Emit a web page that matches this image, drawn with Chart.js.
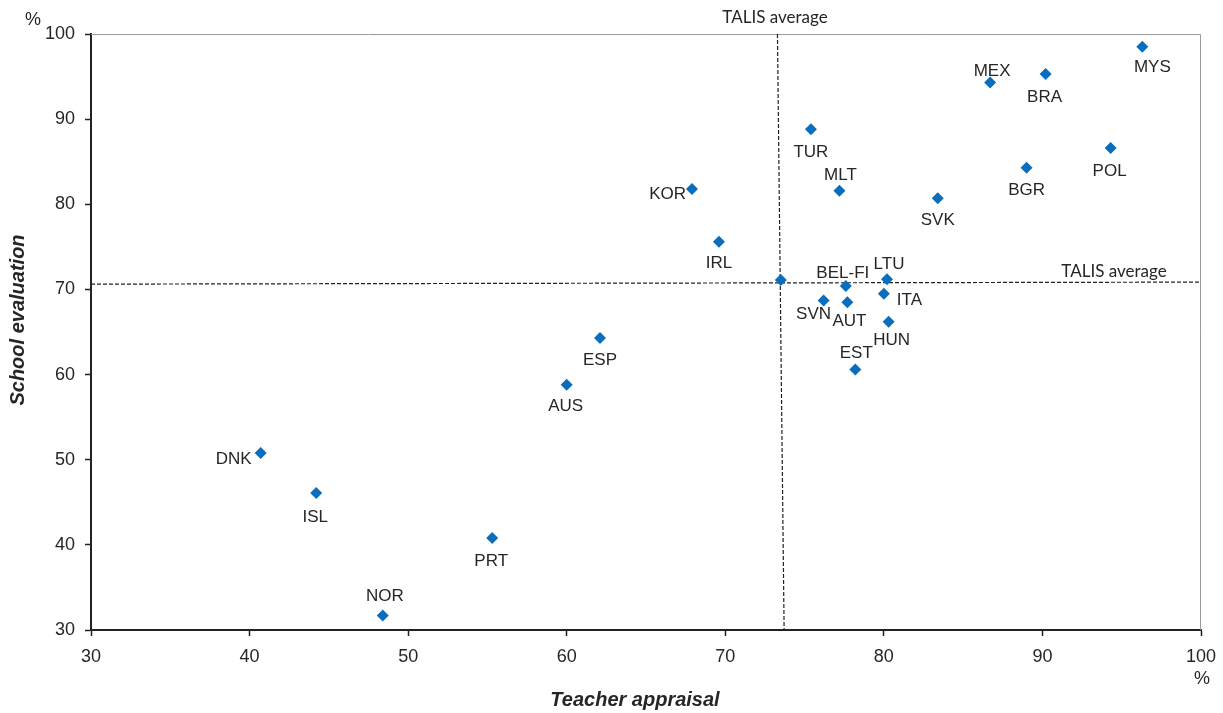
<!DOCTYPE html>
<html>
<head>
<meta charset="utf-8">
<script src="https://cdn.jsdelivr.net/npm/chart.js@4"></script>
<style>
  html, body { margin: 0; padding: 0; background: #fff; }
  #wrap { width: 1223px; height: 713px; }
</style>
</head>
<body>
<div id="wrap"><canvas id="chart"></canvas></div>
<script>
// country codes, '' = TALIS average point (no label)
const countries = ['MYS', 'MEX', 'BRA', 'POL', 'BGR', 'SVK', 'TUR', 'MLT', 'KOR', 'IRL', '', 'LTU',
  'BEL-FI', 'ITA', 'SVN', 'AUT', 'HUN', 'EST', 'ESP', 'AUS', 'DNK', 'ISL', 'PRT', 'NOR'];
const teacherAppraisal = [96.3, 86.7, 90.2, 94.3, 89.0, 83.4, 75.4, 77.2, 67.9, 69.6, 73.5, 80.2,
  77.6, 80.0, 76.2, 77.7, 80.3, 78.2, 62.1, 60.0, 40.7, 44.2, 55.3, 48.4];
const schoolEvaluation = [98.5, 94.3, 95.3, 86.6, 84.3, 80.7, 88.8, 81.6, 81.8, 75.6, 71.1, 71.2,
  70.4, 69.5, 68.7, 68.5, 66.2, 60.6, 64.3, 58.8, 50.8, 46.1, 40.8, 31.7];

// TALIS average reference lines (as drawn in the source, ends slightly off)
const avgLineX = [73.29, 73.71];
const avgLineXY = [100, 30];
const avgLineY = [70.62, 70.86];
const avgLineYX = [30, 100];

const axisMin = 30;
const axisMax = 100;
const tickStep = 10;

// where each label sits relative to its marker (px)
const labelPos = {
  'MYS': [10, 21], 'MEX': [2, -11], 'BRA': [-1, 23], 'POL': [-1, 23], 'BGR': [0, 23],
  'SVK': [0, 22], 'TUR': [0, 23], 'MLT': [1, -15], 'KOR': [-6, 5, 'right'], 'IRL': [0, 22],
  'LTU': [2, -15], 'BEL-FI': [-3, -13], 'ITA': [13, 7, 'left'], 'SVN': [-10, 14], 'AUT': [2, 19],
  'HUN': [3, 19], 'EST': [1, -16], 'ESP': [0, 22], 'AUS': [-1, 22], 'DNK': [-9, 6, 'right'],
  'ISL': [-1, 24], 'PRT': [-1, 23], 'NOR': [2, -19]
};

const textColor = '#262626';
const arial = 'Arial, "Liberation Sans", Helvetica, sans-serif';

const pointLabels = {
  id: 'pointLabels',
  afterDatasetsDraw(chart) {
    const ctx = chart.ctx;
    const meta = chart.getDatasetMeta(0);
    ctx.save();
    ctx.font = '17px ' + arial;
    ctx.fillStyle = textColor;
    ctx.textBaseline = 'middle';
    meta.data.forEach((pt, i) => {
      const name = countries[i];
      if (!name) return;
      const p = labelPos[name] || [0, 20];
      ctx.textAlign = p[2] || 'center';
      ctx.fillText(name, pt.x + p[0], pt.y + p[1]);
    });
    ctx.restore();
  }
};

const extras = {
  id: 'extras',
  beforeDatasetsDraw(chart) {
    const { ctx, chartArea: a } = chart;
    ctx.save();
    // thin gray frame on top and right
    ctx.strokeStyle = '#9a9a9a';
    ctx.lineWidth = 1;
    ctx.beginPath();
    ctx.moveTo(a.left, a.top + 0.5);
    ctx.lineTo(a.right - 0.5, a.top + 0.5);
    ctx.lineTo(a.right - 0.5, a.bottom);
    ctx.stroke();
    ctx.restore();
  },
  afterDraw(chart) {
    const ctx = chart.ctx;
    ctx.save();
    ctx.fillStyle = textColor;
    ctx.textBaseline = 'middle';
    ctx.textAlign = 'center';

    ctx.font = '17px Lato, "Open Sans", sans-serif';
    ctx.fillText('TALIS average', 775, 18);
    ctx.fillText('TALIS average', 1114, 272);

    ctx.font = '18px ' + arial;
    ctx.fillText('%', 33, 20);
    ctx.fillText('%', 1202, 679);

    ctx.font = 'italic bold 20px ' + arial;
    ctx.fillText('Teacher appraisal', 635, 700);
    ctx.translate(18, 320);
    ctx.rotate(-Math.PI / 2);
    ctx.fillText('School evaluation', 0, 0);
    ctx.restore();
  }
};

const axisCommon = {
  type: 'linear',
  min: axisMin,
  max: axisMax,
  ticks: {
    stepSize: tickStep,
    color: textColor,
    font: { family: arial, size: 18 },
    padding: 10
  },
  grid: {
    display: true,
    drawOnChartArea: false,
    drawTicks: true,
    tickLength: 6,
    tickColor: '#222',
    tickWidth: 1.5
  },
  border: { color: '#222', width: 2 }
};

new Chart(document.getElementById('chart'), {
  type: 'scatter',
  data: {
    datasets: [
      {
        data: teacherAppraisal.map((x, i) => ({ x: x, y: schoolEvaluation[i] })),
        pointStyle: 'rectRot',
        pointRadius: 6,
        backgroundColor: '#0a6ebd',
        borderColor: '#0a6ebd',
        borderWidth: 0
      },
      {
        data: avgLineX.map((x, i) => ({ x: x, y: avgLineXY[i] })),
        showLine: true,
        pointRadius: 0,
        borderColor: '#222',
        borderWidth: 1.2,
        borderDash: [4, 2]
      },
      {
        data: avgLineYX.map((x, i) => ({ x: x, y: avgLineY[i] })),
        showLine: true,
        pointRadius: 0,
        borderColor: '#222',
        borderWidth: 1.2,
        borderDash: [4, 2]
      }
    ]
  },
  options: {
    responsive: true,
    maintainAspectRatio: false,
    animation: false,
    layout: { padding: { top: 34, right: 22, left: 0, bottom: 0 } },
    plugins: {
      legend: { display: false },
      tooltip: { enabled: false }
    },
    scales: {
      x: { ...axisCommon, afterFit: (s) => { s.height = 83; s.paddingLeft = 0; s.paddingRight = 0; } },
      y: { ...axisCommon, afterFit: (s) => { s.width = 91; s.paddingTop = 0; s.paddingBottom = 0; } }
    }
  },
  plugins: [pointLabels, extras]
});
</script>
</body>
</html>
